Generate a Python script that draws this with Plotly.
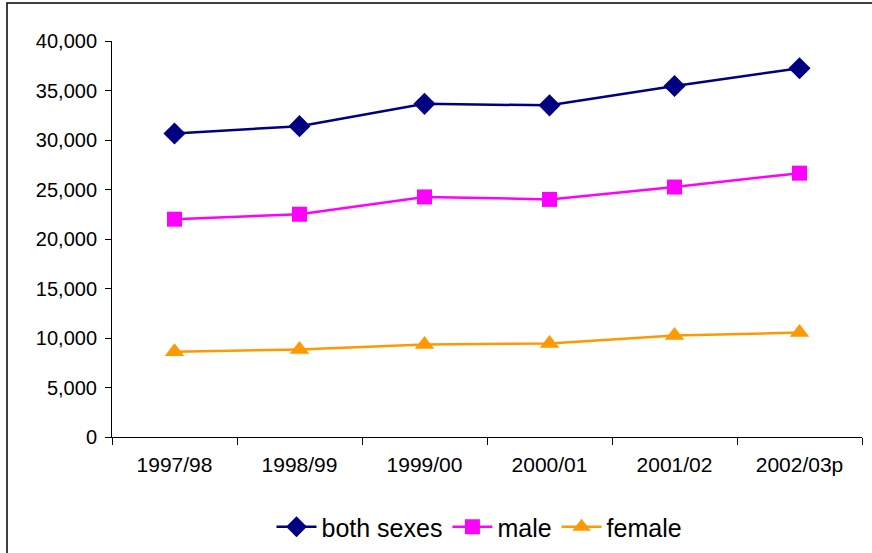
import plotly.graph_objects as go

years = ["1997/98", "1998/99", "1999/00", "2000/01", "2001/02", "2002/03p"]
both_sexes = [30650, 31400, 33650, 33500, 35450, 37250]
male = [22000, 22500, 24250, 24000, 25250, 26650]
female = [8600, 8850, 9350, 9450, 10250, 10550]

fig = go.Figure()
fig.add_trace(go.Scatter(x=years, y=both_sexes, name="both sexes", mode="lines+markers",
                         line=dict(color="#000080", width=2.5),
                         marker=dict(symbol="diamond", size=17, color="#000080")))
fig.add_trace(go.Scatter(x=years, y=male, name="male", mode="lines+markers",
                         line=dict(color="#FF00FF", width=2.5),
                         marker=dict(symbol="square", size=15, color="#FF00FF")))
fig.add_trace(go.Scatter(x=years, y=female, name="female", mode="lines+markers",
                         line=dict(color="#FF9900", width=2.5),
                         marker=dict(symbol="triangle-up", size=17, color="#FF9900")))

fig.update_layout(
    width=872, height=553,
    margin=dict(l=112, r=10, t=41, b=116),
    paper_bgcolor="white", plot_bgcolor="white",
    font=dict(family="Liberation Sans, Arial, sans-serif", color="black"),
    showlegend=True,
    legend=dict(orientation="h", x=0.49, xanchor="center",
                yref="container", y=(553 - 527) / 553, yanchor="middle",
                font=dict(size=25), itemwidth=40, tracegroupgap=0),
    xaxis=dict(type="category", range=[-0.5, 5.5], tickson="boundaries",
               ticks="outside", ticklen=7, tickcolor="black", tickwidth=1,
               showline=True, linecolor="black", linewidth=1, showgrid=False,
               tickfont=dict(size=21), zeroline=False, automargin=False,
               ticklabelstandoff=9),
    yaxis=dict(range=[0, 40000], dtick=5000, tickformat=",d",
               ticks="outside", ticklen=6, tickcolor="black", tickwidth=1,
               showline=True, linecolor="black", linewidth=1, showgrid=False,
               tickfont=dict(size=20), zeroline=False, automargin=False,
               ticklabelstandoff=4),
    shapes=[dict(type="rect", xref="paper", yref="paper",
                 x0=(7 - 112) / 750, x1=1.2, y0=-0.5, y1=(437 - 3) / 396,
                 line=dict(color="black", width=1.5))],
)

fig.write_html("out.html", config={"displayModeBar": False},
               post_script="document.body.style.margin='0';document.body.style.overflow='hidden';")
